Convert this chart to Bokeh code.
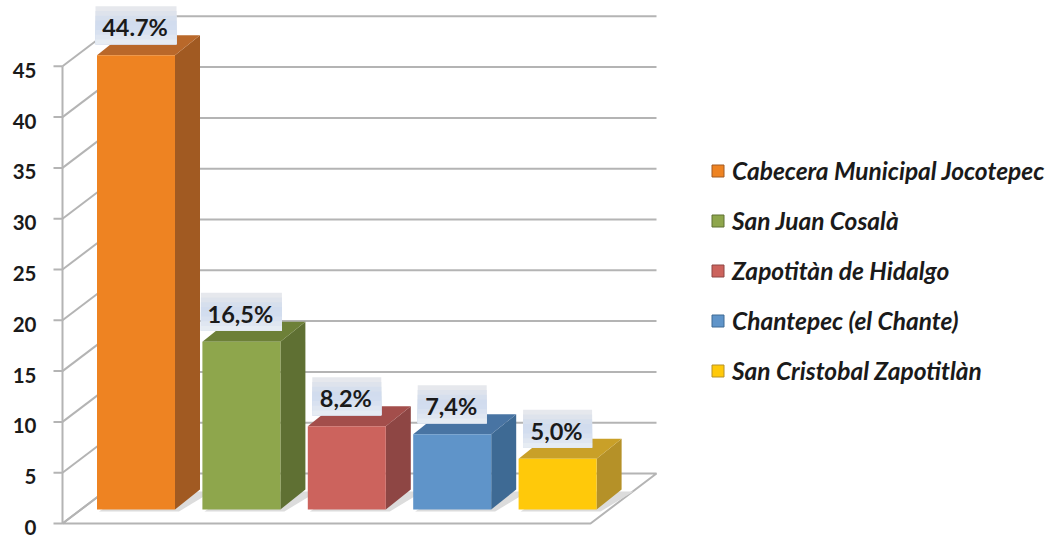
from bokeh.plotting import figure
from bokeh.embed import file_html
from bokeh.resources import INLINE
from bokeh.models import Range1d, LinearAxis, FixedTicker, Legend, LegendItem
from bokeh.core.properties import value

categories = ["Cabecera Municipal Jocotepec", "San Juan Cosalà", "Zapotitàn de Hidalgo",
              "Chantepec (el Chante)", "San Cristobal Zapotitlàn"]
values = [44.7, 16.5, 8.2, 7.4, 5.0]
value_labels = ["44.7%", "16,5%", "8,2%", "7,4%", "5,0%"]
tick_values = [0, 5, 10, 15, 20, 25, 30, 35, 40, 45]
front_colors = ["#ee8322", "#8ea64c", "#cc635d", "#5f94c9", "#ffc90a"]
side_colors = ["#a15a22", "#5f7033", "#8e4644", "#3e6a94", "#b59128"]
top_colors = ["#b9682a", "#6d8038", "#a34e4b", "#4874a3", "#c9a028"]

# geometry (x in page pixels, y in value units)
W, H = 1049, 538
PX = 50.8 / 5          # pixels per unit
Y_ZERO = 523           # page y of value 0 on the front edge
FRONT_X, BACK_X, BACK_RIGHT = 62, 128, 656
WALL_DY = 50 / PX      # depth of the floor
BAR_LIFT = 14 / PX     # bars stand this far back
BAR_X0, BAR_STEP, BAR_W = 96.5, 105.4, 78
BAR_DX, BAR_DY = 25, 20 / PX
GRID = "#b4b4b4"
FRAME_LEFT = 46

p = figure(width=W, height=H, output_backend="svg", toolbar_location=None,
           x_range=Range1d(FRAME_LEFT, W),
           y_range=Range1d((Y_ZERO - H) / PX, Y_ZERO / PX),
           min_border_left=FRAME_LEFT, min_border_right=0, min_border_top=0, min_border_bottom=0,
           x_axis_type=None, y_axis_type=None, outline_line_color=None)
p.xgrid.visible = False
p.ygrid.visible = False

# tick labels sit 4 px below their ticks, as in the reference
shift = 4 / PX
p.extra_y_ranges["labels"] = Range1d(p.y_range.start + shift, p.y_range.end + shift)
ax = LinearAxis(y_range_name="labels", ticker=FixedTicker(ticks=tick_values),
                axis_line_color=None, major_tick_line_color=None, minor_tick_line_color=None,
                major_label_standoff=4, major_label_text_font="Lato",
                major_label_text_font_style="bold", major_label_text_font_size="20.5px",
                major_label_text_color="#1a1a1a")
p.add_layout(ax, "left")

# floor
p.patch([FRONT_X, BACK_X, BACK_RIGHT, BACK_RIGHT - (BACK_X - FRONT_X)],
        [0, WALL_DY, WALL_DY, 0], fill_color="#ffffff", line_color=GRID, line_width=2)
# back-wall grid lines and left-wall diagonals
for t in tick_values[1:]:
    p.line([BACK_X, BACK_RIGHT], [t + WALL_DY, t + WALL_DY], line_color=GRID, line_width=2)
for t in tick_values:
    p.line([FRONT_X, BACK_X], [t, t + WALL_DY], line_color=GRID, line_width=2)
# y axis line and tick marks
p.line([FRONT_X, FRONT_X], [0, tick_values[-1]], line_color=GRID, line_width=2)
p.segment([FRONT_X - 9] * len(tick_values), tick_values, [FRONT_X] * len(tick_values), tick_values,
          line_color=GRID, line_width=2)

legend_items = []
for i, (name, v) in enumerate(zip(categories, values)):
    x0 = BAR_X0 + i * BAR_STEP
    x1 = x0 + BAR_W
    b = BAR_LIFT
    t = v + BAR_LIFT
    # floor shadow
    p.patch([x0 + 2, x1 + 4, x1 + BAR_DX + 12, x0 + BAR_DX + 8],
            [b - 2 / PX, b - 2 / PX, b + BAR_DY - 2 / PX, b + BAR_DY - 2 / PX],
            fill_color="#dcdcdc", line_color=None)
    # right side and top faces
    p.patch([x1, x1 + BAR_DX, x1 + BAR_DX, x1], [b, b + BAR_DY, t + BAR_DY, t],
            fill_color=side_colors[i], line_color=None)
    p.patch([x0, x1, x1 + BAR_DX, x0 + BAR_DX], [t, t, t + BAR_DY, t + BAR_DY],
            fill_color=top_colors[i], line_color=None)
    # swatch renderer: same colour with the darker side colour as its edge, inset under the front face
    swatch = p.quad(left=[x0 + 2], right=[x1 - 2], bottom=[b + 2 / PX], top=[t - 2 / PX],
                    fill_color=front_colors[i], line_color=side_colors[i], line_width=1)
    p.quad(left=[x0], right=[x1], bottom=[b], top=[t], fill_color=front_colors[i], line_color=None)
    legend_items.append(LegendItem(label=name, renderers=[swatch]))

# value labels on a light blue graded box
band_colors = ["#e6e8ed", "#dee3ec", "#d6dfed", "#d1dcee", "#d2ddef", "#d8e1f0", "#dfe6f1", "#e6ecf3"]
for i, (v, lab) in enumerate(zip(values, value_labels)):
    cx = BAR_X0 + i * BAR_STEP + BAR_W / 2
    half = (21 + 12 * len(lab)) / 2
    bottom = v + BAR_LIFT + 11 / PX
    n = len(band_colors)
    for k, c in enumerate(band_colors):
        p.quad(left=[cx - half], right=[cx + half],
               bottom=[bottom], top=[bottom + (38 / PX) * (n - k) / n],
               fill_color=c, line_color=None)
    p.text(x=[cx - 1], y=[bottom + 17 / PX], text=[lab], text_align="center", text_baseline="middle",
           text_font=value("Lato"), text_font_style="bold", text_font_size="23.5px", text_color="#1a1a1a")

legend = Legend(items=legend_items, location=(664, 153), orientation="vertical",
                background_fill_alpha=0, border_line_color=None, padding=0, margin=0,
                glyph_width=15, glyph_height=15, label_standoff=7, spacing=21,
                label_text_font="Lato", label_text_font_style="bold italic", label_text_font_size="24.5px",
                label_text_color="#1a1a1a", label_height=17)
p.add_layout(legend, "center")

open("out.html", "w").write(file_html(p, INLINE))
